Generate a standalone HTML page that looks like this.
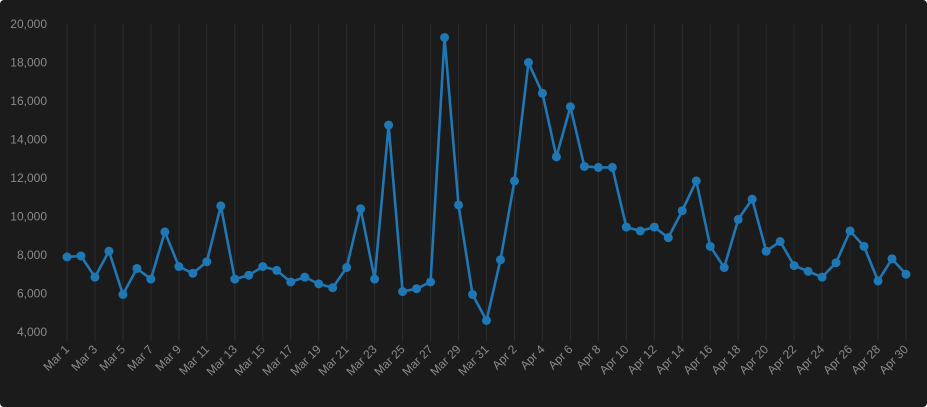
<!DOCTYPE html>
<html><head><meta charset="utf-8"><style>
html,body{margin:0;padding:0;background:#fff;}
#wrap{width:927px;height:407px;background:#1b1b1b;border-radius:4px;overflow:hidden;}
svg text{font-family:"Liberation Sans",sans-serif;font-size:12px;fill:#8a8a8a;}
</style></head><body>
<div id="wrap">
<svg id="chart" width="927" height="407"></svg>
</div>
<script>
const categories = [];
for (let d = 1; d <= 31; d++) categories.push('Mar ' + d);
for (let d = 1; d <= 30; d++) categories.push('Apr ' + d);
const values = [7900,7950,6850,8200,5950,7300,6750,9200,7400,7050,7650,10550,6750,6950,7400,7200,6600,6850,6500,6300,7350,10400,6750,14750,6100,6250,6600,19300,10600,5950,4600,
7750,11850,18000,16400,13100,15700,12600,12550,12550,9450,9250,9450,8900,10300,11850,8450,7350,9850,10900,8200,8700,7450,7150,6850,7600,9250,8450,6650,7800,7000];
const yTicks = [4000,6000,8000,10000,12000,14000,16000,18000,20000];

const svg = document.getElementById('chart');
const NS = 'http://www.w3.org/2000/svg';
const x0 = 67, x1 = 906, yTop = 24, yBot = 332, yMin = 4000, yMax = 20000;
const xs = i => x0 + i * (x1 - x0) / (categories.length - 1);
const ys = v => yBot - (v - yMin) * (yBot - yTop) / (yMax - yMin);
function mk(tag, attrs) { const e = document.createElementNS(NS, tag); for (const k in attrs) e.setAttribute(k, attrs[k]); svg.appendChild(e); return e; }

categories.forEach((c, i) => {
  if (i % 2 !== 0) return;
  const x = xs(i);
  const g = mk('line', {x1: x, x2: x, y1: yTop, y2: 341, stroke: '#2c2c2c', 'stroke-width': 1});
  
  
  const t = mk('text', {x: x + 3, y: 350, 'text-anchor': 'end', transform: `rotate(-45 ${x + 3} 350)`});
  t.textContent = c;
  
  
});
yTicks.forEach(v => {
  const t = mk('text', {x: 47, y: ys(v) + 4, 'text-anchor': 'end'});
  t.textContent = v.toLocaleString('en-US');
  
  
});
const path = mk('polyline', {points: values.map((v, i) => xs(i) + ',' + ys(v)).join(' '), fill: 'none', stroke: '#1f77b4', 'stroke-width': 2.6, 'stroke-linejoin': 'round'});


values.forEach((v, i) => {
  const c = mk('circle', {cx: xs(i), cy: ys(v), r: 4.5, fill: '#1f77b4'});
  
  
});
</script>
</body></html>
